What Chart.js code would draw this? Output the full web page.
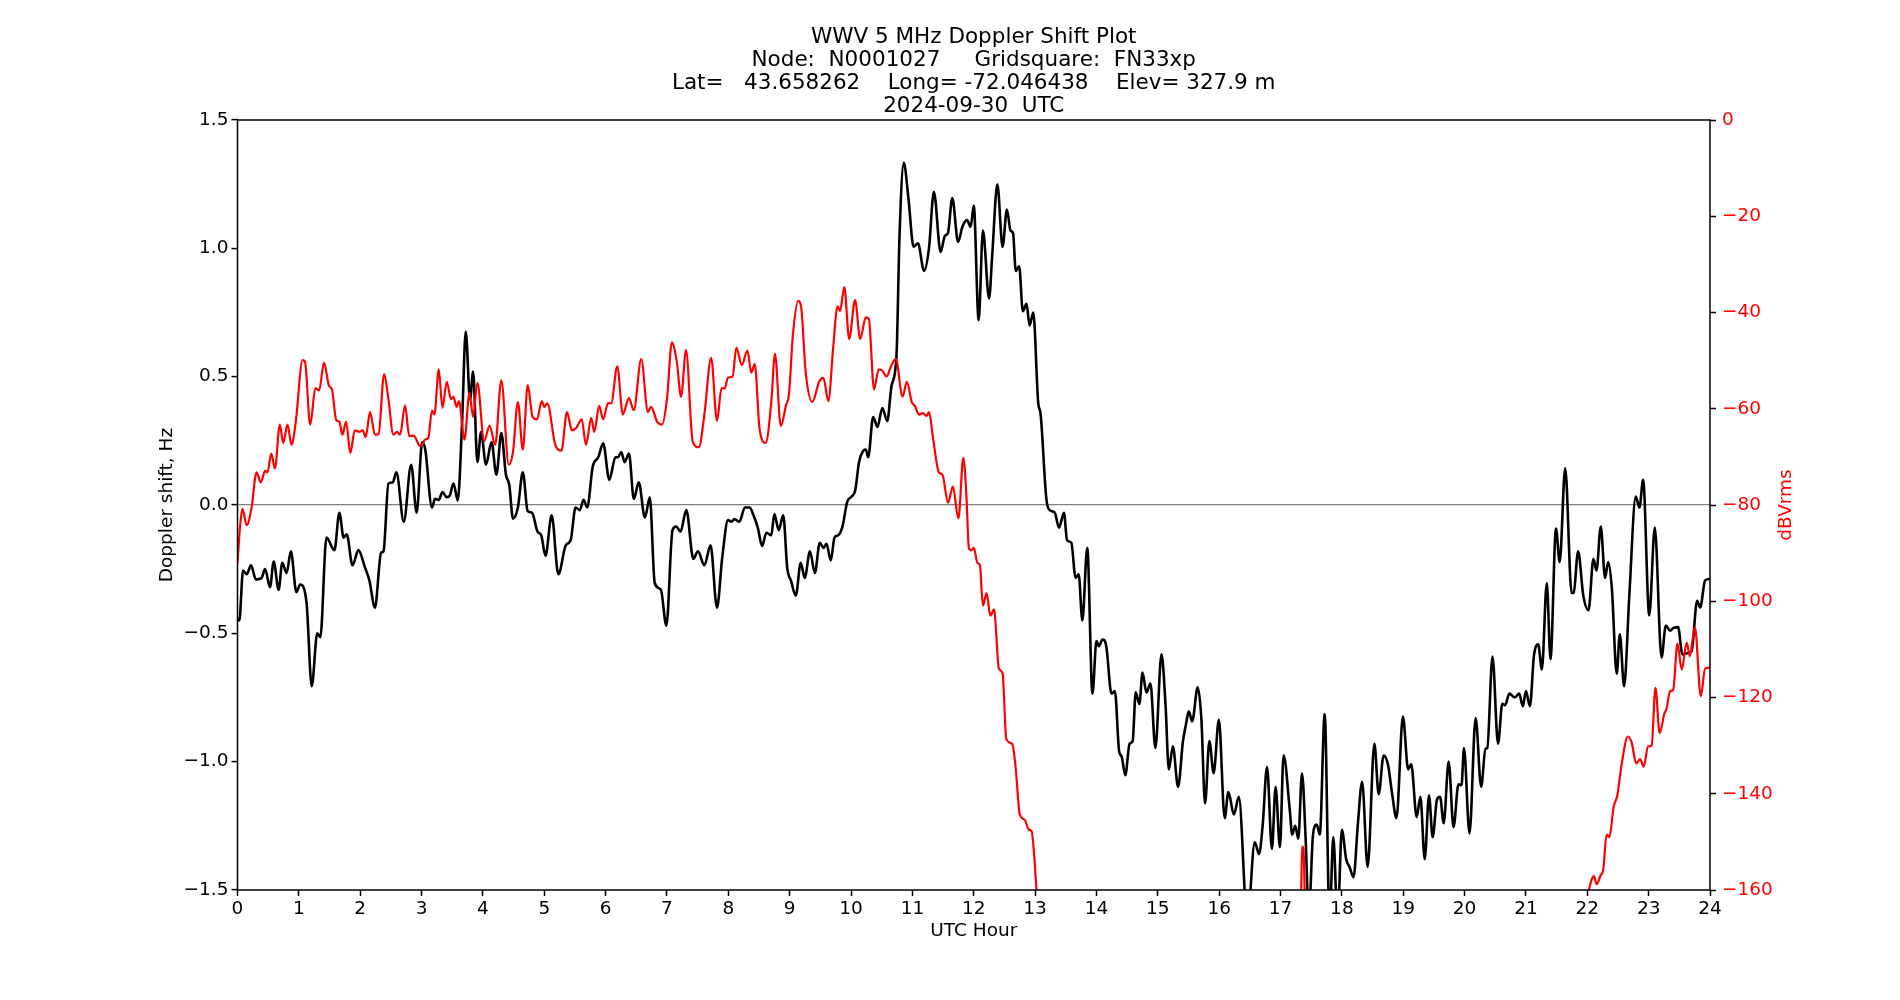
<!DOCTYPE html>
<html lang="en">
  <head>
    <meta charset="UTF-8" />
    <title>WWV 5 MHz Doppler Shift Plot</title>
    <style>
      body { margin: 0; background: #fff; }
    </style>
  </head>
  <body>
    <canvas id="dopplerChart" width="1900" height="1000"></canvas>

    <script src="https://cdn.jsdelivr.net/npm/chart.js"></script>

    <script>
      const titleLines = [
        "WWV 5 MHz Doppler Shift Plot",
        "Node:  N0001027     Gridsquare:  FN33xp",
        "Lat=   43.658262    Long= -72.046438    Elev= 327.9 m",
        "2024-09-30  UTC",
      ];

      // doppler shift (Hz), left axis
      const dopHours = [
        0.0, 0.03, 0.09, 0.15, 0.22, 0.3, 0.39, 0.45, 0.53, 0.59, 0.67, 0.73, 0.8, 0.87, 0.96, 1.02, 1.125, 1.21, 1.3, 1.35,
        1.45, 1.58, 1.66, 1.73, 1.78, 1.875, 1.97, 2.08, 2.15, 2.24, 2.34, 2.38, 2.46, 2.53, 2.59, 2.71, 2.83, 2.92, 3.01, 3.06,
        3.17, 3.22, 3.28, 3.34, 3.41, 3.46, 3.52, 3.59, 3.66, 3.72, 3.79, 3.84, 3.91, 3.97, 4.05, 4.14, 4.22, 4.3, 4.375, 4.43,
        4.49, 4.57, 4.65, 4.73, 4.8, 4.89, 4.95, 5.02, 5.12, 5.23, 5.35, 5.43, 5.51, 5.58, 5.64, 5.7, 5.79, 5.88, 5.96, 6.06,
        6.16, 6.2, 6.255, 6.31, 6.38, 6.46, 6.54, 6.64, 6.72, 6.8, 6.9, 6.99, 7.09, 7.15, 7.22, 7.315, 7.43, 7.505, 7.61, 7.71,
        7.815, 7.9, 7.995, 8.05, 8.1, 8.18, 8.27, 8.35, 8.41, 8.48, 8.55, 8.62, 8.7, 8.75, 8.82, 8.895, 8.96, 9.02, 9.1, 9.18,
        9.245, 9.33, 9.41, 9.49, 9.55, 9.6, 9.67, 9.73, 9.79, 9.86, 9.94, 10.01, 10.07, 10.13, 10.195, 10.24, 10.28, 10.36, 10.43, 10.51,
        10.59, 10.66, 10.74, 10.79, 10.86, 10.935, 11.02, 11.09, 11.19, 11.27, 11.35, 11.46, 11.53, 11.58, 11.65, 11.745, 11.815, 11.89, 11.95, 12.0,
        12.08, 12.15, 12.25, 12.3, 12.385, 12.47, 12.54, 12.6, 12.64, 12.685, 12.74, 12.8, 12.86, 12.91, 12.97, 13.05, 13.09, 13.185, 13.24, 13.32,
        13.39, 13.47, 13.52, 13.59, 13.66, 13.71, 13.77, 13.85, 13.935, 14.0, 14.04, 14.1, 14.16, 14.245, 14.3, 14.37, 14.41, 14.47, 14.54, 14.59,
        14.64, 14.7, 14.75, 14.815, 14.88, 14.96, 15.06, 15.125, 15.18, 15.245, 15.33, 15.41, 15.46, 15.505, 15.56, 15.65, 15.71, 15.77, 15.84, 15.91,
        15.995, 16.09, 16.15, 16.24, 16.32, 16.46, 16.58, 16.65, 16.71, 16.78, 16.86, 16.92, 16.99, 17.05, 17.15, 17.19, 17.24, 17.29, 17.35, 17.41,
        17.46, 17.53, 17.59, 17.64, 17.72, 17.8, 17.86, 17.93, 18.0, 18.07, 18.125, 18.19, 18.26, 18.33, 18.42, 18.53, 18.6, 18.68, 18.75, 18.815,
        18.89, 18.995, 19.08, 19.13, 19.22, 19.28, 19.35, 19.42, 19.48, 19.55, 19.6, 19.66, 19.74, 19.82, 19.9, 19.95, 19.99, 20.08, 20.18, 20.27,
        20.34, 20.37, 20.455, 20.545, 20.615, 20.66, 20.73, 20.82, 20.89, 20.95, 21.0, 21.065, 21.13, 21.2, 21.26, 21.34, 21.4, 21.49, 21.55, 21.64,
        21.745, 21.78, 21.85, 21.935, 22.02, 22.1, 22.15, 22.22, 22.29, 22.34, 22.4, 22.48, 22.53, 22.6, 22.685, 22.79, 22.85, 22.91, 23.01, 23.1,
        23.21, 23.28, 23.35, 23.4, 23.48, 23.55, 23.62, 23.7, 23.79, 23.84, 23.92, 24.0,
      ];
      const dopHz = [
        -0.44, -0.45, -0.255, -0.27, -0.235, -0.29, -0.285, -0.25, -0.32, -0.22, -0.33, -0.225, -0.265, -0.18, -0.34, -0.31, -0.38, -0.706, -0.5, -0.515,
        -0.127, -0.176, -0.03, -0.127, -0.114, -0.235, -0.176, -0.245, -0.294, -0.4, -0.186, -0.18, 0.084, 0.088, 0.127, -0.065, 0.157, -0.03, 0.245, 0.216,
        -0.01, 0.024, 0.02, 0.05, 0.03, 0.037, 0.084, 0.018, 0.32, 0.676, 0.41, 0.52, 0.167, 0.284, 0.157, 0.245, 0.118, 0.28, 0.118, 0.078,
        -0.053, -0.01, 0.127, -0.024, -0.03, -0.104, -0.118, -0.198, -0.04, -0.27, -0.157, -0.137, -0.01, -0.02, 0.02, -0.01, 0.15, 0.186, 0.24, 0.098,
        0.186, 0.186, 0.206, 0.167, 0.2, 0.024, 0.088, -0.049, 0.03, -0.304, -0.33, -0.47, -0.098, -0.084, -0.104, -0.02, -0.21, -0.18, -0.235, -0.157,
        -0.4, -0.206, -0.059, -0.065, -0.055, -0.065, -0.01, -0.01, -0.04, -0.088, -0.16, -0.108, -0.118, -0.035, -0.098, -0.04, -0.245, -0.294, -0.353, -0.225,
        -0.284, -0.18, -0.265, -0.147, -0.167, -0.151, -0.216, -0.127, -0.118, -0.084, 0.014, 0.033, 0.059, 0.167, 0.21, 0.216, 0.186, 0.343, 0.304, 0.378,
        0.327, 0.465, 0.578, 1.049, 1.333, 1.196, 1.006, 1.02, 0.912, 1.0, 1.22, 0.986, 1.049, 1.06, 1.196, 1.025, 1.084, 1.11, 1.084, 1.167,
        0.72, 1.069, 0.804, 0.97, 1.249, 1.006, 1.151, 1.069, 1.06, 0.912, 0.93, 0.755, 0.784, 0.7, 0.75, 0.4, 0.353, 0.02, -0.02, -0.03,
        -0.088, -0.03, -0.137, -0.147, -0.284, -0.27, -0.45, -0.167, -0.735, -0.53, -0.55, -0.524, -0.55, -0.735, -0.725, -0.96, -0.98, -1.053, -0.93, -0.92,
        -0.73, -0.775, -0.653, -0.73, -0.696, -0.947, -0.582, -0.775, -1.03, -0.94, -1.098, -0.92, -0.853, -0.804, -0.843, -0.71, -0.833, -1.163, -0.92, -1.045,
        -0.837, -1.22, -1.118, -1.206, -1.137, -1.62, -1.314, -1.36, -1.245, -1.02, -1.34, -1.098, -1.333, -0.975, -1.186, -1.284, -1.25, -1.3, -1.045, -1.304,
        -1.6, -1.284, -1.245, -1.284, -0.814, -1.62, -1.294, -1.62, -1.265, -1.38, -1.41, -1.45, -1.245, -1.078, -1.41, -0.93, -1.127, -0.976, -1.01, -1.118,
        -1.22, -0.824, -1.03, -1.01, -1.216, -1.137, -1.38, -1.131, -1.294, -1.147, -1.137, -1.24, -1.0, -1.255, -1.088, -1.092, -0.947, -1.28, -0.83, -1.098,
        -0.95, -0.947, -0.59, -0.93, -0.775, -0.78, -0.735, -0.75, -0.735, -0.784, -0.725, -0.784, -0.588, -0.543, -0.641, -0.304, -0.6, -0.092, -0.222, 0.143,
        -0.343, -0.34, -0.18, -0.353, -0.41, -0.21, -0.255, -0.084, -0.284, -0.222, -0.324, -0.657, -0.504, -0.706, -0.353, 0.033, -0.01, 0.098, -0.43, -0.088,
        -0.594, -0.47, -0.49, -0.48, -0.476, -0.582, -0.578, -0.57, -0.373, -0.4, -0.294, -0.288,
      ];

      // received power (dBVrms), right axis; null = signal below the axis for hours
      const pwrHours = [
        0.0, 0.04, 0.08, 0.15, 0.23, 0.31, 0.38, 0.45, 0.49, 0.55, 0.61, 0.69, 0.745, 0.815, 0.88, 0.95, 1.06, 1.1, 1.185, 1.27,
        1.33, 1.41, 1.49, 1.54, 1.61, 1.66, 1.71, 1.77, 1.84, 1.91, 1.99, 2.04, 2.09, 2.16, 2.24, 2.3, 2.39, 2.46, 2.54, 2.6,
        2.65, 2.73, 2.8, 2.87, 2.98, 3.06, 3.11, 3.17, 3.21, 3.28, 3.34, 3.41, 3.48, 3.52, 3.57, 3.61, 3.7, 3.78, 3.84, 3.91,
        4.02, 4.11, 4.2, 4.3, 4.42, 4.49, 4.57, 4.65, 4.73, 4.81, 4.88, 4.96, 5.0, 5.05, 5.18, 5.28, 5.37, 5.45, 5.52, 5.61,
        5.68, 5.765, 5.815, 5.895, 5.96, 6.04, 6.09, 6.19, 6.28, 6.38, 6.46, 6.58, 6.69, 6.74, 6.84, 6.92, 7.0, 7.08, 7.16, 7.23,
        7.31, 7.42, 7.52, 7.61, 7.72, 7.815, 7.89, 7.94, 7.995, 8.07, 8.13, 8.22, 8.31, 8.375, 8.43, 8.51, 8.61, 8.7, 8.76, 8.855,
        8.94, 8.99, 9.05, 9.14, 9.19, 9.26, 9.37, 9.48, 9.55, 9.63, 9.71, 9.78, 9.82, 9.89, 9.97, 10.065, 10.15, 10.24, 10.29, 10.375,
        10.45, 10.51, 10.58, 10.65, 10.73, 10.84, 10.91, 10.99, 11.04, 11.11, 11.17, 11.23, 11.27, 11.34, 11.43, 11.49, 11.58, 11.66, 11.75, 11.83,
        11.88, 11.92, 11.96, 12.0, 12.06, 12.1, 12.15, 12.21, 12.27, 12.33, 12.41, 12.47, 12.53, 12.63, 12.685, 12.75, 12.83, 12.9, 12.94, 13.04,
        13.3, 17.33, 17.355, 17.375, 17.4, 19.5, 21.97, 22.07, 22.11, 22.15, 22.22, 22.26, 22.315, 22.36, 22.43, 22.49, 22.56, 22.66, 22.72, 22.8,
        22.86, 22.92, 22.99, 23.05, 23.11, 23.18, 23.255, 23.29, 23.35, 23.4, 23.47, 23.54, 23.62, 23.67, 23.755, 23.85, 23.92, 24.0,
      ];
      const pwrDb = [
        -92, -84.7, -80.8, -84.2, -80.5, -73.2, -75.3, -72.9, -73.2, -69.3, -72.4, -63.3, -67.1, -63.3, -67.5, -62.7, -49.9, -50.2, -63.3, -55.7,
        -56.2, -50.4, -55.2, -56.0, -62.4, -62.7, -65.4, -62.7, -69.2, -64.5, -64.8, -64.5, -65.9, -60.7, -65.4, -65.2, -52.8, -58.0, -65.4, -64.8,
        -65.4, -59.3, -65.7, -65.6, -67.8, -66.4, -66.0, -60.4, -61.2, -51.8, -59.8, -54.4, -58.0, -57.5, -59.6, -58.4, -66.4, -56.7, -61.7, -54.6,
        -66.7, -63.5, -67.5, -54.1, -71.6, -69.0, -58.6, -68.5, -55.1, -61.7, -62.2, -58.4, -59.6, -58.9, -67.5, -68.7, -60.7, -64.5, -64.0, -62.2,
        -67.5, -61.9, -64.8, -59.4, -62.2, -58.8, -58.9, -51.2, -61.2, -57.8, -60.3, -49.7, -60.7, -59.6, -62.7, -63.3, -58.0, -46.2, -50.2, -57.5,
        -47.8, -66.9, -68.0, -61.2, -49.4, -62.5, -55.7, -55.8, -53.5, -53.3, -47.3, -50.9, -47.9, -52.5, -50.7, -64.3, -67.1, -58.6, -48.6, -63.6,
        -59.3, -56.8, -45.0, -37.6, -39.2, -52.3, -58.6, -54.4, -53.6, -58.4, -47.1, -38.7, -39.7, -34.7, -45.5, -37.4, -45.5, -41.0, -41.3, -56.0,
        -51.8, -52.1, -53.3, -51.2, -49.7, -57.5, -54.4, -58.6, -59.4, -61.2, -60.9, -61.5, -60.7, -66.4, -73.2, -73.7, -79.5, -76.2, -82.8, -70.2,
        -77.9, -88.9, -89.4, -88.9, -92.0, -92.5, -100.9, -98.3, -103.0, -101.7, -114.0, -115.0, -128.6, -129.7, -134.9, -144.3, -145.4, -147.5, -147.7, -163,
        null, -165, -151, -151.5, -165, null, -163, -157.9, -157.1, -158.8, -156.9, -155.8, -148.5, -149.0, -142.7, -140.3, -133.9, -128.1, -129.2, -133.7,
        -132.8, -134.4, -130.2, -129.9, -118.0, -127.4, -123.4, -122.4, -118.7, -118.4, -108.8, -114.2, -108.6, -111.4, -105.4, -119.7, -114.0, -113.8,
      ];

      const toPoints = (xs, ys) => xs.map((x, i) => ({ x: x, y: ys[i] }));
      const withMinus = (v, digits) => (v < 0 ? "\u2212" : "") + Math.abs(v).toFixed(digits);

      Chart.defaults.font.family = "'DejaVu Sans', sans-serif";
      Chart.defaults.font.size = 18.5;
      Chart.defaults.color = "#000";

      // title, full frame and the right axis label (matplotlib style, reads bottom to top)
      const frameAndTitle = {
        id: "frameAndTitle",
        afterDraw(chart) {
          const { ctx, chartArea: { top, bottom, left, right } } = chart;
          ctx.save();
          ctx.strokeStyle = "#000";
          ctx.lineWidth = 1.5;
          ctx.strokeRect(left, top, right - left, bottom - top);

          ctx.fillStyle = "#000";
          ctx.font = "21.5px 'DejaVu Sans'";
          ctx.textAlign = "center";
          ctx.textBaseline = "middle";
          titleLines.forEach((line, i) => ctx.fillText(line, (left + right) / 2, 37.5 + i * 23));

          ctx.translate(1786, (top + bottom) / 2);
          ctx.rotate(-Math.PI / 2);
          ctx.fillStyle = "#ff0000";
          ctx.font = "18.5px 'DejaVu Sans'";
          ctx.fillText("dBVrms", 0, 0);
          ctx.restore();
        },
      };

      const ctx = document.getElementById("dopplerChart").getContext("2d");
      new Chart(ctx, {
        type: "line",
        data: {
          datasets: [
            {
              label: "dBVrms",
              data: toPoints(pwrHours, pwrDb),
              yAxisID: "y1",
              borderColor: "#ff0000",
              borderWidth: 2.2,
              cubicInterpolationMode: "monotone",
              pointRadius: 0,
              spanGaps: false,
              clip: 0,
              order: 0,
            },
            {
              label: "Doppler shift",
              data: toPoints(dopHours, dopHz),
              yAxisID: "y",
              borderColor: "#000",
              borderWidth: 2.6,
              cubicInterpolationMode: "monotone",
              pointRadius: 0,
              clip: 0,
              order: 1,
            },
          ],
        },
        options: {
          responsive: false,
          animation: false,
          devicePixelRatio: 1,
          layout: { padding: { left: 150, right: 0, top: 120, bottom: 55 } },
          plugins: {
            legend: { display: false },
            tooltip: { enabled: false },
          },
          scales: {
            x: {
              type: "linear",
              min: 0,
              max: 24,
              border: { display: false },
              grid: { drawOnChartArea: false, tickLength: 6, tickColor: "#000", tickWidth: 1.5 },
              ticks: { stepSize: 1, padding: 2, maxRotation: 0, autoSkip: false },
              title: { display: true, text: "UTC Hour", padding: { top: 0, bottom: 3 } },
              afterFit: (scale) => { scale.height = 55; },
            },
            y: {
              position: "left",
              min: -1.5,
              max: 1.5,
              border: { display: false },
              grid: {
                color: (c) => (c.tick && c.tick.value === 0 ? "#808080" : "rgba(0,0,0,0)"),
                lineWidth: 1.2,
                tickLength: 6,
                tickColor: "#000",
                tickWidth: 1.5,
              },
              ticks: { stepSize: 0.5, padding: 3, callback: (v) => withMinus(v, 1) },
              title: { display: true, text: "Doppler shift, Hz", padding: { top: 6, bottom: 0 } },
              afterFit: (scale) => { scale.width = 87.5; },
            },
            y1: {
              position: "right",
              min: -160,
              max: 0,
              border: { display: false },
              grid: { drawOnChartArea: false, tickLength: 6, tickColor: "#000", tickWidth: 1.5 },
              ticks: { stepSize: 20, padding: 6, color: "#ff0000", callback: (v) => withMinus(v, 0) },
              afterFit: (scale) => { scale.width = 190; },
            },
          },
        },
        plugins: [frameAndTitle],
      });
    </script>
  </body>
</html>
